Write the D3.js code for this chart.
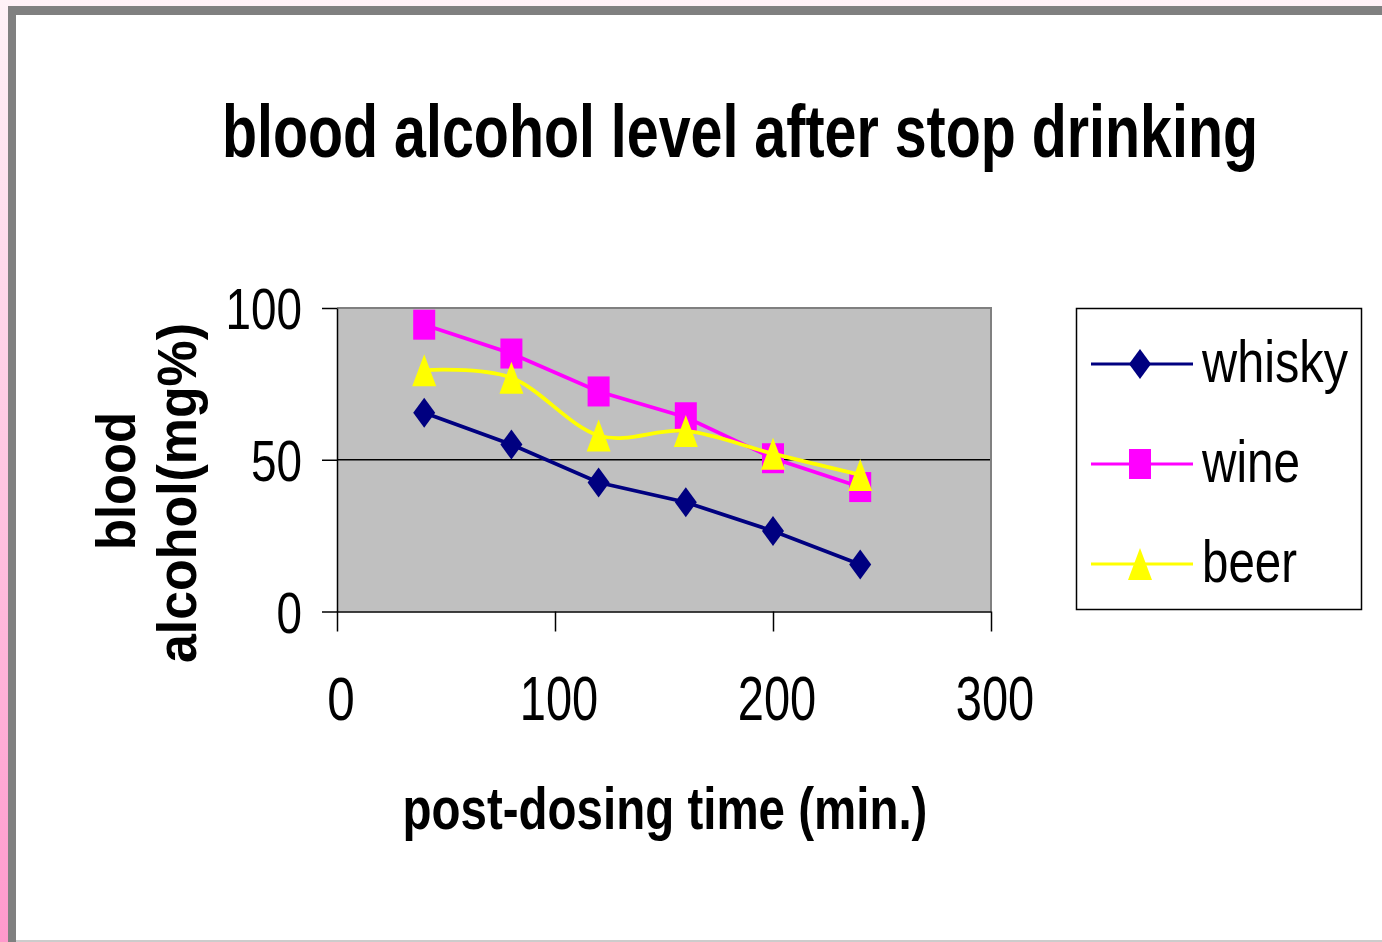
<!DOCTYPE html>
<html><head><meta charset="utf-8">
<script src="https://cdn.jsdelivr.net/npm/d3@7"></script>
<style>body{margin:0;overflow:hidden;background:#fff}text{font-family:"Liberation Sans",Arial,sans-serif}</style>
</head><body><svg id="c" width="1382" height="942"></svg>
<script>
// ---- data ----
const times = [40, 80, 120, 160, 200, 240];
const whisky = [65.5, 55, 42.5, 36, 26.5, 15.5];
const wine = [94.5, 85, 72.5, 64, 50.5, 41];
const beer = [79.5, 77, 58, 59.5, 52, 45];
const seriesNames = ["whisky", "wine", "beer"];
const xTicks = [0, 100, 200, 300];
const yTicks = [0, 50, 100];
const titleText = "blood alcohol level after stop drinking";
const xTitleText = "post-dosing time (min.)";
const yTitleLines = ["blood", "alcohol(mg%)"];

// ---- styles ----
const colors = {whisky: "#000080", wine: "#ff00ff", beer: "#ffff00"};
const curves = {whisky: d3.curveLinear, wine: d3.curveLinear, beer: d3.curveCatmullRom.alpha(0)};
const seriesData = {whisky, wine, beer};

const svg = d3.select("#c");
const defs = svg.append("defs");
const grad = defs.append("linearGradient").attr("id", "bg").attr("x1", 0).attr("y1", 0).attr("x2", 0).attr("y2", 1);
grad.append("stop").attr("offset", 0).attr("stop-color", "#fff2f7");
grad.append("stop").attr("offset", 1).attr("stop-color", "#ff99cc");

// frame
svg.append("rect").attr("x", 0).attr("y", 0).attr("width", 1382).attr("height", 942).attr("fill", "url(#bg)");
svg.append("rect").attr("x", 8).attr("y", 6).attr("width", 1374).attr("height", 936).attr("fill", "#808080");
svg.append("rect").attr("x", 16).attr("y", 15).attr("width", 1366).attr("height", 925).attr("fill", "#ffffff");
svg.append("rect").attr("x", 16).attr("y", 940).attr("width", 1366).attr("height", 2).attr("fill", "#cccccc");

// helper: horizontally condensed text placed by anchor point
function condensed(parent, str, opts) {
  const t = parent.append("text").attr("x", 0).attr("y", 0)
    .attr("text-anchor", opts.anchor || "start")
    .attr("font-size", opts.size).attr("font-weight", opts.weight || "normal")
    .attr("fill", "#000").text(str);
  const w = t.node().getComputedTextLength();
  const s = opts.width / w;
  t.attr("transform", `translate(${opts.x},${opts.y})${opts.rotate ? " rotate(" + opts.rotate + ")" : ""} scale(${s},1)`);
  return t;
}

// title
condensed(svg, titleText, {x: 740, y: 157, anchor: "middle", size: 75, weight: "bold", width: 1036});

// scales
const x = d3.scaleLinear().domain([0, 300]).range([337, 991]);
const y = d3.scaleLinear().domain([0, 100]).range([611.5, 308]);

// plot area
svg.append("rect").attr("x", x(0)).attr("y", y(100)).attr("width", x(300) - x(0)).attr("height", y(0) - y(100)).attr("fill", "#c0c0c0");
svg.append("g").selectAll("line").data(yTicks.filter(d => d > 0 && d < 100)).join("line")
  .attr("x1", x(0)).attr("x2", x(300)).attr("y1", d => y(d)).attr("y2", d => y(d))
  .attr("stroke", "#000").attr("stroke-width", 1.3);
svg.append("path").attr("d", `M${x(0)},${y(100)}H${x(300)}V${y(0)}`).attr("fill", "none").attr("stroke", "#808080").attr("stroke-width", 2);

const digitW = 25.5;
// y axis
const gy = svg.append("g").attr("transform", `translate(${x(0)},0)`)
  .call(d3.axisLeft(y).tickValues(yTicks).tickSize(15).tickFormat("").tickSizeOuter(0));
gy.selectAll("path,line").attr("stroke", "#000").attr("stroke-width", 1.5);
yTicks.forEach(v => condensed(svg, String(v), {x: 302, y: y(v) + 21, anchor: "end", size: 58, width: String(v).length * digitW}));
// x axis
const gx = svg.append("g").attr("transform", `translate(0,${y(0)})`)
  .call(d3.axisBottom(x).tickValues(xTicks).tickSize(20).tickFormat("").tickSizeOuter(0));
gx.selectAll("path,line").attr("stroke", "#000").attr("stroke-width", 1.5);
xTicks.forEach(v => condensed(svg, String(v), {x: x(v) + 4, y: 720, anchor: "middle", size: 62, width: String(v).length * digitW + 2}));

// axis titles
condensed(svg, xTitleText, {x: 665, y: 829, anchor: "middle", size: 60, weight: "bold", width: 525});
const yTitlePos = [{bx: 135, cy: 481, len: 138}, {bx: 196, cy: 493, len: 340}];
yTitleLines.forEach((line, i) => condensed(svg, line, {x: yTitlePos[i].bx, y: yTitlePos[i].cy, rotate: -90, anchor: "middle", size: 56, weight: "bold", width: yTitlePos[i].len}));

// markers
function marker(sel, name) {
  if (name === "whisky") sel.append("path").attr("d", "M0,-15L11,0L0,15L-11,0Z");
  else if (name === "wine") sel.append("rect").attr("x", -11).attr("y", -15).attr("width", 22).attr("height", 30);
  else sel.append("path").attr("d", "M0,-16L12,16L-12,16Z");
  sel.attr("fill", colors[name]);
}

// series
seriesNames.forEach(name => {
  const vals = seriesData[name];
  const pts = times.map((t, i) => [t, vals[i]]);
  const line = d3.line().x(d => x(d[0])).y(d => y(d[1])).curve(curves[name]);
  svg.append("path").datum(pts).attr("d", line).attr("fill", "none")
    .attr("stroke", colors[name]).attr("stroke-width", 3.8);
  svg.append("g").selectAll("g").data(pts).join("g")
    .attr("transform", d => `translate(${x(d[0])},${y(d[1])})`)
    .each(function() { marker(d3.select(this), name); });
});

// legend
const lg = svg.append("g");
lg.append("rect").attr("x", 1076.5).attr("y", 308.5).attr("width", 285).attr("height", 301)
  .attr("fill", "#fff").attr("stroke", "#000").attr("stroke-width", 1.5);
const legendY = d3.scalePoint().domain(seriesNames).range([364, 564]);
const legendLen = {whisky: 146, wine: 98, beer: 95};
seriesNames.forEach(name => {
  const ly = legendY(name);
  lg.append("line").attr("x1", 1091).attr("x2", 1193).attr("y1", ly).attr("y2", ly)
    .attr("stroke", colors[name]).attr("stroke-width", 2.8);
  const m = lg.append("g").attr("transform", `translate(1140,${ly})`);
  marker(m, name);
  condensed(lg, name, {x: 1202, y: ly + 18, size: 60, width: legendLen[name]});
});
</script></body></html>
